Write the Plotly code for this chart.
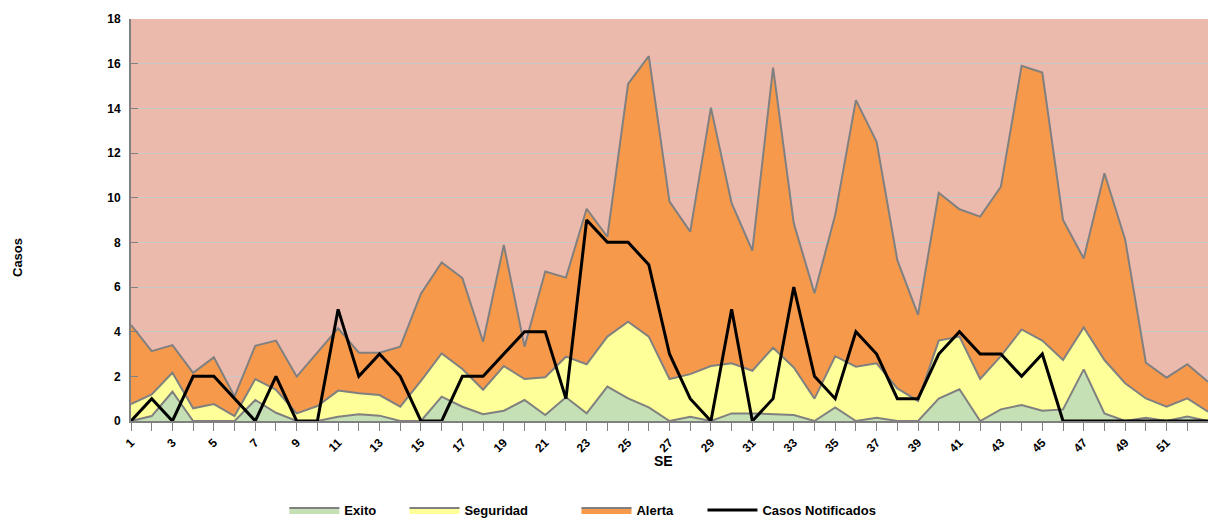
import plotly.graph_objects as go

semanas = list(range(1, 54))

exito = [0, 0.22, 1.31, 0, 0, 0, 0.94, 0.37, 0, 0,
         0.19, 0.3, 0.24, 0, 0, 1.09, 0.64, 0.3, 0.46, 0.94,
         0.27, 1.06, 0.34, 1.54, 1.01, 0.61, 0, 0.19, 0, 0.34,
         0.34, 0.3, 0.27, 0, 0.61, 0, 0.15, 0, 0, 1.0,
         1.42, 0, 0.52, 0.72, 0.46, 0.52, 2.31, 0.34, 0, 0.15,
         0, 0.2, 0]

seguridad = [0.76, 1.19, 2.16, 0.57, 0.76, 0.22, 1.88, 1.4, 0.34, 0.67,
             1.36, 1.24, 1.16, 0.64, 1.8, 3.03, 2.33, 1.4, 2.46, 1.88,
             1.96, 2.88, 2.54, 3.78, 4.45, 3.78, 1.88, 2.1, 2.46, 2.58,
             2.25, 3.28, 2.4, 1.0, 2.9, 2.43, 2.58, 1.46, 0.9, 3.6,
             3.78, 1.88, 2.9, 4.1, 3.6, 2.73, 4.19, 2.73, 1.69, 1.01,
             0.64, 1.01, 0.42]

alerta = [4.3, 3.13, 3.4, 2.16, 2.85, 1.1, 3.37, 3.6, 1.99, 3.05,
          4.15, 3.06, 3.06, 3.33, 5.7, 7.1, 6.4, 3.55, 7.88, 3.33,
          6.69, 6.42, 9.5, 8.25, 15.09, 16.34, 9.82, 8.48, 14.03, 9.75,
          7.63, 15.82, 8.85, 5.72, 9.22, 14.37, 12.5, 7.2, 4.75, 10.22,
          9.48, 9.15, 10.49, 15.9, 15.6, 9.0, 7.28, 11.09, 8.13, 2.61,
          1.94, 2.54, 1.76]

casos = [0, 1, 0, 2, 2, 1, 0, 2, 0, 0,
         5, 2, 3, 2, 0, 0, 2, 2, 3, 4,
         4, 1, 9, 8, 8, 7, 3, 1, 0, 5,
         0, 1, 6, 2, 1, 4, 3, 1, 1, 3,
         4, 3, 3, 2, 3, 0, 0, 0, 0, 0,
         0, 0, 0]

FAM = "Liberation Sans, Arial, sans-serif"
edge = dict(color="#808080", width=2)
bold = dict(family=FAM, size=12, color="black", weight="bold")
legfont = dict(family=FAM, size=13, color="black", weight="bold")

fig = go.Figure()
fig.add_trace(go.Scatter(x=semanas, y=exito, name="Exito", mode="lines", legend="legend",
                         line=edge, fill="tozeroy", fillcolor="#C5E0B4"))
fig.add_trace(go.Scatter(x=semanas, y=seguridad, name="Seguridad", mode="lines", legend="legend2",
                         line=edge, fill="tonexty", fillcolor="#FFFF99"))
fig.add_trace(go.Scatter(x=semanas, y=alerta, name="Alerta", mode="lines", legend="legend3",
                         line=edge, fill="tonexty", fillcolor="#F6994B"))
fig.add_trace(go.Scatter(x=semanas, y=casos, name="Casos Notificados", mode="lines", legend="legend4",
                         line=dict(color="black", width=3)))

LEG_Y = -0.2214


def leg(x):
    return dict(orientation="h", x=x, xanchor="left", y=LEG_Y, yanchor="middle",
                font=legfont, bgcolor="rgba(0,0,0,0)", itemwidth=50)


fig.update_layout(
    template="none",
    width=1200, height=512,
    margin=dict(l=123, r=0, t=11, b=99, pad=0, autoexpand=False),
    paper_bgcolor="white",
    plot_bgcolor="#ECBAAD",
    font=bold,
    showlegend=True,
    legend=leg(0.1424),
    legend2=leg(0.2539),
    legend3=leg(0.4136),
    legend4=leg(0.5306),
    xaxis=dict(range=[1, 53], tickmode="linear", tick0=1, dtick=2,
               showgrid=False, zeroline=False,
               showline=True, linecolor="#808080", linewidth=2,
               ticks="outside", ticklen=8, tickcolor="#808080", tickwidth=1,
               minor=dict(dtick=1, tick0=1, ticks="outside", ticklen=8, tickcolor="#808080", tickwidth=1, showgrid=False),
               tickangle=-45, tickfont=bold, automargin=False),
    yaxis=dict(range=[0, 18], tickmode="linear", tick0=0, dtick=2,
               showgrid=True, gridcolor="#C8C8C8", gridwidth=1, zeroline=False,
               showline=True, linecolor="#808080", linewidth=2,
               ticks="inside", ticklen=7, tickcolor="#808080",
               tickfont=bold, automargin=False, ticklabelstandoff=6),
    annotations=[
        dict(text="SE", xref="x", yref="paper", x=26.7, y=-0.1, xanchor="center", yanchor="middle",
             showarrow=False, font=dict(family=FAM, size=14, color="black", weight="bold")),
        dict(text="Casos", xref="paper", yref="paper", x=-0.1049, y=0.4055, xanchor="center", yanchor="middle",
             textangle=-90, showarrow=False,
             font=dict(family=FAM, size=13, color="black", weight="bold")),
    ],
)

fig.write_html("out.html")
